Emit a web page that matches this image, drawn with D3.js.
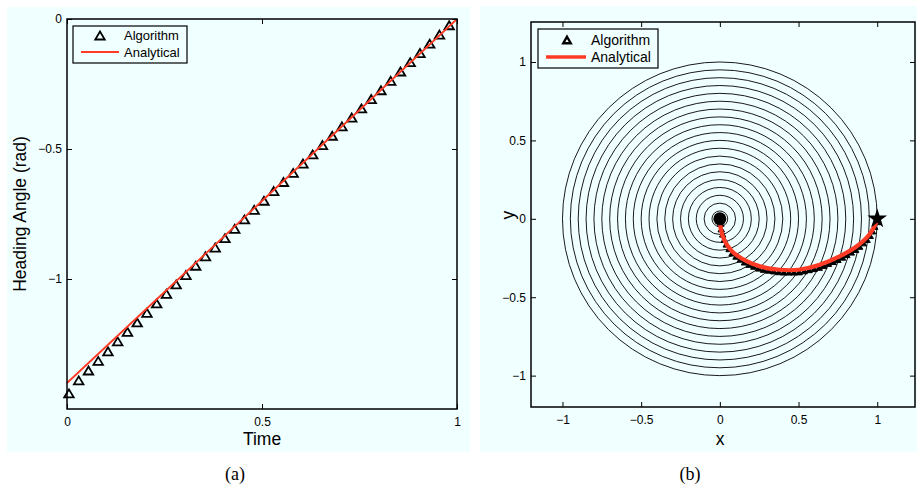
<!DOCTYPE html>
<html><head><meta charset="utf-8">
<script src="https://cdn.jsdelivr.net/npm/d3@7"></script>
<style>body{margin:0;background:#fff}svg{display:block}text{fill:#000}</style>
</head><body>
<svg id="c" width="917" height="488" font-family="Liberation Sans, Arial, sans-serif"></svg>
<script>
// ---- Panel (a): heading angle vs time ----
const timeAlg = [0.005,0.030,0.055,0.080,0.105,0.130,0.155,0.180,0.205,0.230,0.255,0.280,0.305,0.330,0.355,0.380,0.405,0.430,0.455,0.480,0.505,0.530,0.555,0.580,0.605,0.630,0.655,0.680,0.705,0.730,0.755,0.780,0.805,0.830,0.855,0.880,0.905,0.930,0.955,0.980];
const headingAlg = [-1.440,-1.390,-1.352,-1.315,-1.278,-1.240,-1.203,-1.167,-1.130,-1.094,-1.057,-1.021,-0.985,-0.949,-0.913,-0.879,-0.843,-0.807,-0.771,-0.734,-0.699,-0.662,-0.627,-0.592,-0.556,-0.521,-0.485,-0.449,-0.413,-0.379,-0.344,-0.308,-0.274,-0.238,-0.202,-0.166,-0.131,-0.095,-0.060,-0.024];
const timeAna = [0, 0.25, 0.5, 0.75, 1];
const headingAna = [-1.40, -1.05, -0.70, -0.35, 0];
const xTicksA = [0, 0.5, 1];
const yTicksA = [0, -0.5, -1];

// ---- Panel (b): trajectory in the plane ----
const radii = [0.05,0.10,0.15,0.20,0.25,0.30,0.35,0.40,0.45,0.50,0.55,0.60,0.65,0.70,0.75,0.80,0.85,0.90,0.95,1.00];
const pathAnaX = [0.000,0.005,0.030,0.080,0.170,0.260,0.380,0.500,0.630,0.760,0.870,0.950,1.000];
const pathAnaY = [0.000,-0.060,-0.140,-0.210,-0.270,-0.305,-0.325,-0.325,-0.295,-0.240,-0.175,-0.100,-0.010];
const pathAlgX = [0.006,0.009,0.018,0.028,0.041,0.059,0.078,0.103,0.130,0.157,0.186,0.216,0.247,0.278,0.310,0.342,0.374,0.406,0.439,0.471,0.504,0.536,0.567,0.599,0.631,0.660,0.690,0.720,0.750,0.779,0.807,0.835,0.863,0.888,0.911,0.935,0.955,0.970,0.984,0.999];
const pathAlgY = [-0.030,-0.066,-0.099,-0.133,-0.163,-0.192,-0.219,-0.240,-0.259,-0.277,-0.292,-0.304,-0.316,-0.324,-0.329,-0.334,-0.339,-0.341,-0.341,-0.341,-0.340,-0.333,-0.326,-0.319,-0.311,-0.299,-0.286,-0.274,-0.261,-0.246,-0.230,-0.214,-0.197,-0.177,-0.155,-0.133,-0.108,-0.079,-0.050,-0.020];
const startPt = [0, 0];
const targetPt = [1, 0];
const ticksB = [-1, -0.5, 0, 0.5, 1];

const BG = "#f0ffff";
const RED = "#ff3b26";
const SANS = "Liberation Sans, Arial, sans-serif";
const SERIF = "Liberation Serif, Times New Roman, serif";
const svg = d3.select("#c");
const fmt = d3.format("~g");

// backgrounds
svg.append("rect").attr("x",7).attr("y",7).attr("width",463).attr("height",445).attr("fill",BG);
svg.append("rect").attr("x",480).attr("y",6).attr("width",437).attr("height",446).attr("fill",BG);

function boxAxes(g, x, y, xt, yt) {
  const [x0,x1] = x.range(), [y0,y1] = y.range();
  g.append("g").attr("transform",`translate(0,${y0})`)
    .call(d3.axisBottom(x).tickValues(xt).tickSize(-5).tickPadding(8).tickFormat(fmt));
  g.append("g").attr("transform",`translate(0,${y1})`)
    .call(d3.axisTop(x).tickValues(xt).tickSize(-5).tickFormat(""));
  g.append("g").attr("transform",`translate(${x0},0)`)
    .call(d3.axisLeft(y).tickValues(yt).tickSize(-5).tickPadding(5).tickFormat(fmt));
  g.append("g").attr("transform",`translate(${x1},0)`)
    .call(d3.axisRight(y).tickValues(yt).tickSize(-5).tickFormat(""));
  g.selectAll(".domain").remove();
  g.selectAll(".tick line").attr("stroke","#000").attr("stroke-width",1);
  g.selectAll(".tick text").style("font-size","12px").style("font-family",SANS);
  g.append("rect").attr("x",x0).attr("y",y1).attr("width",x1-x0).attr("height",y0-y1)
    .attr("fill","none").attr("stroke","#000").attr("stroke-width",1.5);
}

function tri(w,h){ return `M0,${-h/2}L${w/2},${h/2}L${-w/2},${h/2}Z`; }

// ===== Panel (a) =====
const xA = d3.scaleLinear().domain([0,1]).range([67,457]);
const yA = d3.scaleLinear().domain([-1.5,0]).range([409,19]);
const gA = svg.append("g");
gA.selectAll("path.ta").data(timeAlg).join("path").attr("class","ta")
  .attr("d", tri(9.5,8)).attr("transform",(d,i)=>`translate(${xA(d)},${yA(headingAlg[i])})`)
  .attr("fill","none").attr("stroke","#000").attr("stroke-width",1.8).attr("stroke-linejoin","miter");
gA.append("path").datum(timeAna.map((t,i)=>[t,headingAna[i]]))
  .attr("d", d3.line().x(d=>xA(d[0])).y(d=>yA(d[1])))
  .attr("fill","none").attr("stroke",RED).attr("stroke-width",1.8);
boxAxes(gA, xA, yA, xTicksA, yTicksA);
// legend (a)
gA.append("rect").attr("x",73).attr("y",26).attr("width",114).attr("height",37).attr("fill",BG).attr("stroke","#000").attr("stroke-width",1.2);
gA.append("path").attr("d",tri(9.5,8)).attr("transform","translate(100,35.5)").attr("fill","none").attr("stroke","#000").attr("stroke-width",1.8);
gA.append("line").attr("x1",81).attr("x2",119).attr("y1",52).attr("y2",52).attr("stroke",RED).attr("stroke-width",1.8);
gA.append("text").attr("x",124).attr("y",40).style("font-size","13px").text("Algorithm");
gA.append("text").attr("x",124).attr("y",57).style("font-size","13px").text("Analytical");
gA.append("text").attr("x",262).attr("y",445).attr("text-anchor","middle").style("font-size","17.5px").text("Time");
gA.append("text").attr("transform","translate(26,214) rotate(-90)").attr("text-anchor","middle").style("font-size","17.5px").text("Heading Angle (rad)");
svg.append("text").attr("x",235).attr("y",480).attr("text-anchor","middle").style("font-size","18px")
  .style("font-family",SERIF).text("(a)");

// ===== Panel (b) =====
const xB = d3.scaleLinear().domain([-1.2,1.24]).range([531,915]);
const yB = d3.scaleLinear().domain([-1.2,1.255]).range([407,22]);
const gB = svg.append("g");
gB.selectAll("ellipse").data(radii).join("ellipse")
  .attr("cx",xB(0)).attr("cy",yB(0))
  .attr("rx",d=>xB(d)-xB(0)).attr("ry",d=>yB(0)-yB(d))
  .attr("fill","none").attr("stroke","#000").attr("stroke-width",0.9);
gB.selectAll("path.tb").data(pathAlgX).join("path").attr("class","tb")
  .attr("d", tri(6.5,5.5)).attr("transform",(d,i)=>`translate(${xB(d)},${yB(pathAlgY[i])})`)
  .attr("fill","#000").attr("stroke","#000").attr("stroke-width",1);
gB.append("path").datum(pathAnaX.map((x,i)=>[x,pathAnaY[i]]))
  .attr("d", d3.line().x(d=>xB(d[0])).y(d=>yB(d[1])).curve(d3.curveCatmullRom))
  .attr("fill","none").attr("stroke",RED).attr("stroke-width",4.2).attr("stroke-linecap","round");
gB.append("circle").attr("cx",xB(startPt[0])).attr("cy",yB(startPt[1])).attr("r",6.5).attr("fill","#000");
gB.append("path").attr("d",d3.symbol().type(d3.symbolStar).size(120)())
  .attr("transform",`translate(${xB(targetPt[0])},${yB(targetPt[1])})`).attr("fill","#000");
boxAxes(gB, xB, yB, ticksB, ticksB);
// legend (b)
gB.append("rect").attr("x",538).attr("y",29).attr("width",120).attr("height",39).attr("fill",BG).attr("stroke","#000").attr("stroke-width",1.2);
gB.append("path").attr("d",tri(7.5,6.5)).attr("transform","translate(567,40)").attr("fill","#fff").attr("stroke","#000").attr("stroke-width",2.4);
gB.append("line").attr("x1",546).attr("x2",586).attr("y1",57).attr("y2",57).attr("stroke",RED).attr("stroke-width",3.5);
gB.append("text").attr("x",591).attr("y",45).style("font-size","14px").text("Algorithm");
gB.append("text").attr("x",591).attr("y",62).style("font-size","14px").text("Analytical");
gB.append("text").attr("x",720).attr("y",445).attr("text-anchor","middle").style("font-size","17.5px").text("x");
gB.append("text").attr("transform","translate(514,215) rotate(-90)").attr("text-anchor","middle").style("font-size","17.5px").text("y");
svg.append("text").attr("x",690).attr("y",480).attr("text-anchor","middle").style("font-size","18px")
  .style("font-family",SERIF).text("(b)");
</script>
</body></html>
